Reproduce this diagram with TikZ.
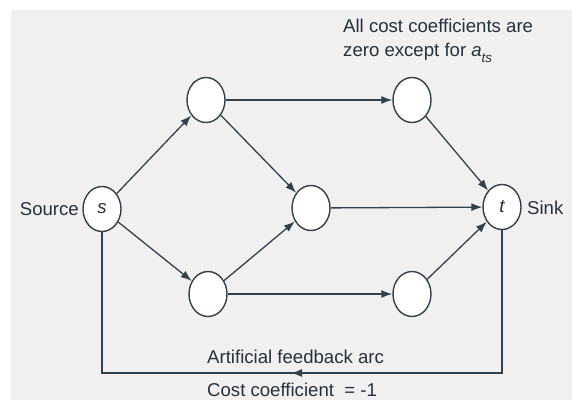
\documentclass[tikz,border=0pt]{standalone}
\usepackage{fontspec}
\setmainfont{Liberation Sans}
\usetikzlibrary{shapes.geometric,arrows.meta}
\definecolor{panel}{HTML}{F0F0F0}
\definecolor{ink}{HTML}{36404A}
\definecolor{txt}{HTML}{28303A}
\tikzset{
  vertex/.style={ellipse, draw=ink, line width=1.4pt, fill=white,
    minimum width=38pt, minimum height=45pt, inner sep=0pt,
    font=\fontsize{18.6pt}{22pt}\selectfont\itshape, text=txt},
  tip/.style={-{Latex[length=11pt,width=8pt]}},
  arc/.style={draw=ink, line width=1.3pt, tip},
  label/.style={font=\fontsize{18.6pt}{22pt}\selectfont, text=txt, inner sep=0pt}
}
\begin{document}
\begin{tikzpicture}[x=1pt,y=-1pt]
  \useasboundingbox (0,0) rectangle (572,400);
  \fill[panel] (11,10) rectangle (572,400);

  % network nodes
  \node[vertex] (s)  at (102,209) {s};
  \node[vertex] (t)  at (502,207) {t};
  \node[vertex] (a)  at (206,100) {};
  \node[vertex] (b)  at (208,294) {};
  \node[vertex] (m)  at (311,208) {};
  \node[vertex] (c)  at (412,100) {};
  \node[vertex] (d)  at (412,294) {};

  % labels
  \node[label, anchor=east] (src) at (79,209) {Source};
  \node[label, anchor=west] (snk) at (527,208) {Sink};
  \node[label, anchor=base west] (note1) at (343,32) {All cost coefficients are};
  \node[label, anchor=base west] (note2) at (343,56)
    {zero except for \textit{a}\raisebox{-0.35em}{\fontsize{13.5pt}{14pt}\selectfont\textit{ts}}};
  \node[label, anchor=base west] (fb1) at (207,363) {Artificial feedback arc};
  \node[label, anchor=base west] (fb2) at (207,396) {Cost coefficient\ \ = -1};

  % arcs
  \draw[arc] (s) -- (a);
  \draw[arc] (s) -- (b);
  \draw[arc] (a) -- (c);
  \draw[arc] (a) -- (m);
  \draw[arc] (b) -- (m);
  \draw[arc] (b) -- (d);
  \draw[arc] (m) -- (t);
  \draw[arc] (c) -- (t);
  \draw[arc] (d) -- (t);

  % feedback arc from t back to s, with its direction arrow midway
  \coordinate (fbr) at (502,373);
  \coordinate (fbl) at (102,373);
  \coordinate (fbtail) at (330,373);
  \coordinate (fbhead) at (291,373);
  \draw[draw=ink, line width=1.3pt] (t.south) -- (fbr) -- (fbl) -- (s.south);
  \draw[arc] (fbtail) -- (fbhead);
\end{tikzpicture}
\end{document}
